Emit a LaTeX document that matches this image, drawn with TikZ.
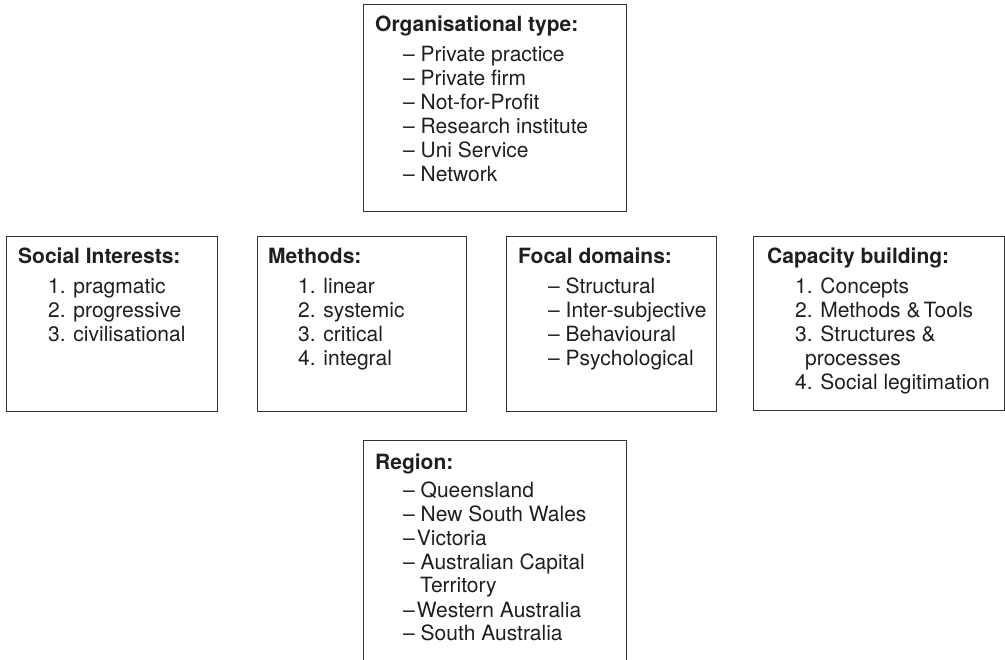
\documentclass[tikz,border=0pt]{standalone}
\usepackage{fontspec}
\setmainfont{TeX Gyre Heros}
\tikzset{
  x=1pt, y=-1pt,
  panel/.style={draw=black!80, line width=1pt, rectangle, inner sep=0pt, anchor=north west},
  head/.style={anchor=base west, inner sep=0pt, text=black!88, font=\fontsize{21}{24}\selectfont\bfseries},
  items/.style={anchor=base west, inner sep=0pt, text=black!88, font=\fontsize{21}{24}\selectfont, align=left},
}
\newcommand{\lst}[1]{\begin{tabular}[t]{@{}l@{}}#1\end{tabular}}
\begin{document}
\begin{tikzpicture}
\useasboundingbox (0,0) rectangle (1005,660);
% boxes
\node[panel, minimum width=263pt, minimum height=207pt] (org) at (363,4) {};
\node[panel, minimum width=211pt, minimum height=175pt] (soc) at (6,236) {};
\node[panel, minimum width=209pt, minimum height=175pt] (met) at (257,236) {};
\node[panel, minimum width=210pt, minimum height=175pt] (foc) at (506,236) {};
\node[panel, minimum width=251pt, minimum height=174pt] (cap) at (753,236) {};
\node[panel, minimum width=263pt, minimum height=230pt] (reg) at (363,440) {};
% Organisational type
\node[head] (orgh) at (375,32) {Organisational type:};
\node[items] (orgl) at (403,62) {\lst{-- Private practice\\ -- Private firm\\ -- Not-for-Profit\\ -- Research institute\\ -- Uni Service\\ -- Network}};
% Social interests
\node[head] (soch) at (18,264) {Social Interests:};
\node[items] (socl) at (48,294) {\lst{1. pragmatic\\ 2. progressive\\ 3. civilisational}};
% Methods
\node[head] (meth) at (268,264) {Methods:};
\node[items] (metl) at (298,294) {\lst{1. linear\\ 2. systemic\\ 3. critical\\ 4. integral}};
% Focal domains
\node[head] (foch) at (518,264) {Focal domains:};
\node[items] (focl) at (548,294) {\lst{-- Structural\\ -- Inter-subjective\\ -- Behavioural\\ -- Psychological}};
% Capacity building
\node[head] (caph) at (767,264) {Capacity building:};
\node[items] (capl) at (795,294) {\lst{1. Concepts\\ 2. Methods \&\hspace{0.15em}Tools\\ 3. Structures \&\\ \hspace{10pt}processes\\ 4. Social legitimation}};
% Region
\node[head] (regh) at (375,469) {Region:};
\node[items] (regl) at (403,497) {\lst{-- Queensland\\ -- New South Wales\\ --\hspace{0.1em}Victoria\\ -- Australian Capital\\ \hspace{17pt}Territory\\ --\hspace{0.1em}Western Australia\\ -- South Australia}};
\end{tikzpicture}
\end{document}
